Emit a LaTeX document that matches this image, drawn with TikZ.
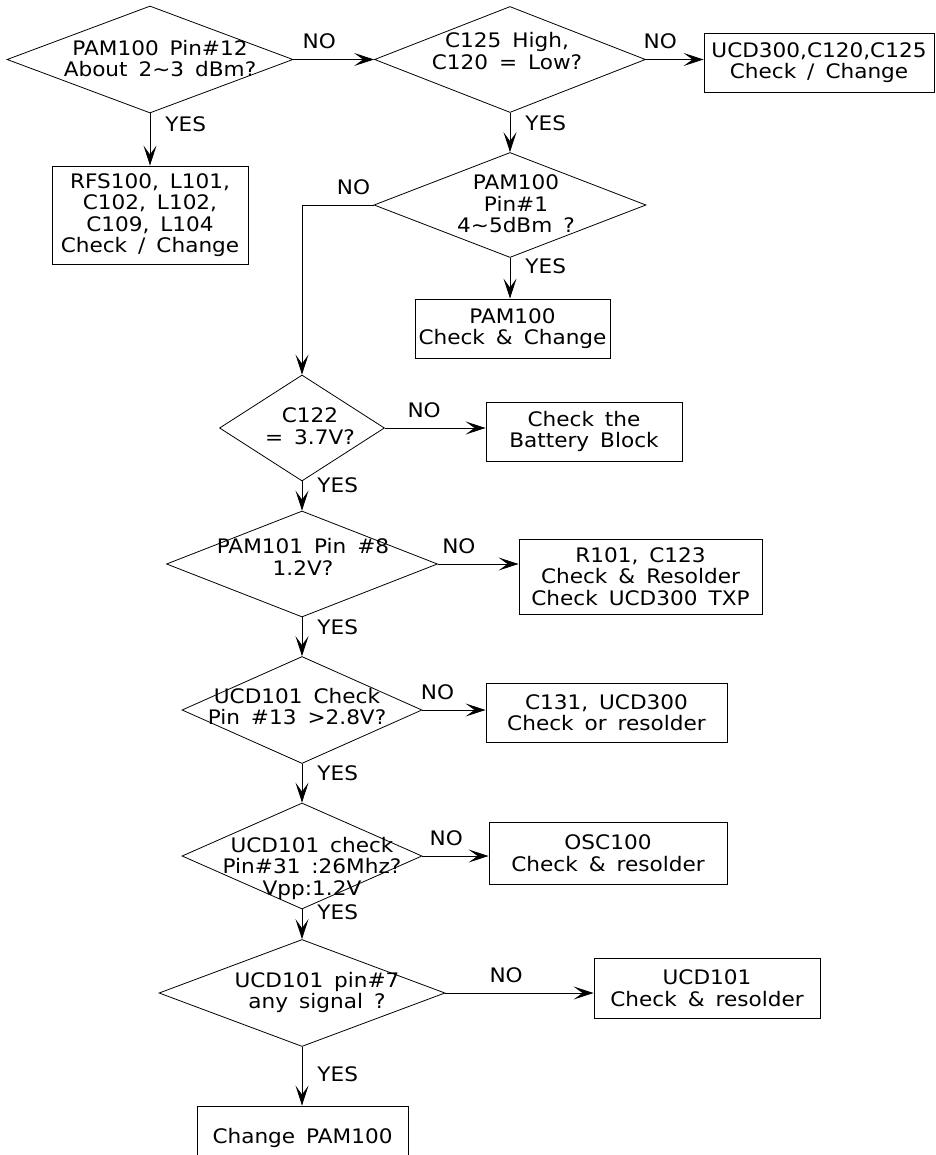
\documentclass[tikz,border=0pt]{standalone}
\usepackage{fontspec}
\setmainfont{DejaVu Sans}[FakeStretch=1.08, WordSpace=1.6]
\usetikzlibrary{shapes.geometric, arrows.meta}

\begin{document}
\begin{tikzpicture}[x=1pt, y=-1pt,
        every node/.style={font=\fontsize{20}{21.5}\selectfont},
        decision/.style={draw, diamond, inner sep=0pt, line width=0.8pt},
        block/.style={draw, rectangle, inner sep=0pt, align=center, line width=0.9pt},
        txt/.style={inner sep=0pt, align=center},
        arrow/.style={line width=0.8pt, -{Stealth[length=20pt, width=13pt, inset=9pt]}},
        yes/.style={inner sep=0pt, anchor=west, xshift=15pt},
        no/.style={inner sep=0pt, yshift=18pt}
    ]
        \useasboundingbox (0,0) rectangle (935,1155);
        % decisions
        \node (d1) [decision, minimum width=286pt, minimum height=107pt] at (150,59.5) {};
        \node (d2) [decision, minimum width=271pt, minimum height=106pt] at (510,59.5) {};
        \node (d3) [decision, minimum width=272pt, minimum height=105pt] at (510,205) {};
        \node (d4) [decision, minimum width=165pt, minimum height=106pt] at (302,428) {};
        \node (d5) [decision, minimum width=271pt, minimum height=106pt] at (302,564) {};
        \node (d6) [decision, minimum width=240pt, minimum height=107pt] at (302,710) {};
        \node (d7) [decision, minimum width=240pt, minimum height=106pt] at (302,856) {};
        \node (d8) [decision, minimum width=286pt, minimum height=107pt] at (302,993) {};
        \node (t1) [txt] at (160,58.5) {PAM100 Pin\#12\\About 2\textasciitilde3 dBm?};
        \node (t2) [txt] at (507,51) {C125 High,\\C120 = Low?};
        \node (t3) [txt] at (516,204) {PAM100\\Pin\#1\\4\textasciitilde5dBm ?};
        \node (t4) [txt] at (310,426) {C122\\= 3.7V?};
        \node (t5) [txt] at (303,557) {PAM101 Pin \#8\\1.2V?};
        \node (t6) [txt] at (297,706.5) {UCD101 Check\\Pin \#13 >2.8V?};
        \node (t7) [txt] at (312,868) {UCD101 check\\Pin\#31 :26Mhz?\\Vpp:1.2V};
        \node (t8) [txt] at (317,992.5) {UCD101 pin\#7\\any signal ?};
        % actions
        \node (b1) [block, minimum width=230pt, minimum height=59pt] at (819,62.5) {UCD300,C120,C125\\Check / Change};
        \node (b2) [block, minimum width=196pt, minimum height=98pt] at (150,215) {RFS100, L101,\\C102, L102,\\C109, L104\\Check / Change};
        \node (b3) [block, minimum width=195pt, minimum height=59pt] at (512.5,328.5) {PAM100\\Check \& Change};
        \node (b4) [block, minimum width=196pt, minimum height=59pt] at (584,431.5) {Check the\\Battery Block};
        \node (b5) [block, minimum width=243pt, minimum height=75pt] at (640.5,576.5) {R101, C123\\Check \& Resolder\\Check UCD300 TXP};
        \node (b6) [block, minimum width=241pt, minimum height=59pt] at (606.5,712.5) {C131, UCD300\\Check or resolder};
        \node (b7) [block, minimum width=238pt, minimum height=62pt] at (608,853) {OSC100\\Check \& resolder};
        \node (b8) [block, minimum width=226pt, minimum height=60pt] at (707,988) {UCD101\\Check \& resolder};
        \node (b9) [block, minimum width=211pt, minimum height=64pt] at (302.5,1138) {Change PAM100};
        % connectors
        \draw [arrow] (d1.east) -- node[no, pos=0.32] (n1) {NO} (d2.west);
        \draw [arrow] (d2.east) -- node[no, pos=0.25] (n2) {NO} (d2.east -| b1.west);
        \draw [arrow] (d1.south) -- node[yes, pos=0.21] (y1) {YES} (b2.north);
        \draw [arrow] (d2.south) -- node[yes, pos=0.27] (y2) {YES} (d3.north);
        \draw [arrow] (d3.west) -| node[no, pos=0.14] (n3) {NO} (d4.north);
        \draw [arrow] (d3.south) -- node[yes, pos=0.2] (y3) {YES} (d3.south |- b3.north);
        \draw [arrow] (d4.east) -- node[no, pos=0.39] (n4) {NO} (d4.east -| b4.west);
        \draw [arrow] (d4.south) -- node[yes, pos=0.13] (y4) {YES} (d5.north);
        \draw [arrow] (d5.east) -- node[no, pos=0.26] (n5) {NO} (d5.east -| b5.west);
        \draw [arrow] (d5.south) -- node[yes, pos=0.26] (y5) {YES} (d6.north);
        \draw [arrow] (d6.east) -- node[no, pos=0.24] (n6) {NO} (d6.east -| b6.west);
        \draw [arrow] (d6.south) -- node[yes, pos=0.25] (y6) {YES} (d7.north);
        \draw [arrow] (d7.east) -- node[no, pos=0.36] (n7) {NO} (d7.east -| b7.west);
        \draw [arrow] (d7.south) -- node[yes, pos=0.1] (y7) {YES} (d8.north);
        \draw [arrow] (d8.east) -- node[no, pos=0.41] (n8) {NO} (d8.east -| b8.west);
        \draw [arrow] (d8.south) -- node[yes, pos=0.46] (y8) {YES} (d8.south |- b9.north);
    \end{tikzpicture}
\end{document}
